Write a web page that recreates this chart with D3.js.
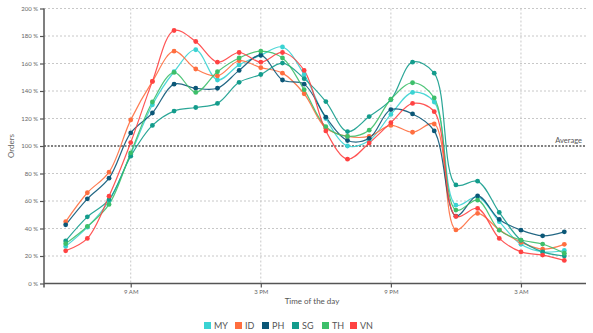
<!DOCTYPE html>
<html><head><meta charset="utf-8">
<script src="https://cdn.jsdelivr.net/npm/d3@7"></script>
<style>
body{margin:0;background:#fff;}
svg{display:block;font-family:Lato,"Noto Sans",sans-serif;}
</style></head>
<body><svg id="c" width="593" height="333"></svg>
<script>
// hours from 6 AM to 5 AM (next day)
const hours = d3.range(24).map(i => 6 + i);
const seriesNames = ["MY","ID","PH","SG","TH","VN"];
const seriesColors = ["#3ad3d3","#ff6e3f","#0b5777","#139c8c","#3dbf6a","#ff4242"];
const MY = [27,41,60,94,130,154,170,148,159,166,172,152,120,100,104,123,139,132,57,63,45,28.5,23,24];
const ID = [45,66,81,119,147,169,156,151,162,157,153,138,113,107,107,115,110,116,39,51,39,30,25,28.5];
const PH = [42.7,61.6,76.6,109.5,124,145,142,142,155,166,148,145,121,104,105.6,126.5,123.3,111,49,63.7,46.6,38.8,34.7,37.6];
const SG = [31,48.5,61,92.6,115,125.4,128,131,146.3,152,160.3,149,132.3,110.5,121.4,133.7,161,153,71.7,74.4,51.7,31.4,23,20];
const TH = [29,41.5,57.5,95,132,153.5,139,154,164,169,164,141,114,107,111.5,134,146,135,53.4,60.6,38.8,31.6,28.7,22];
const VN = [23.8,32.8,63.5,102.5,147,184,176,161,168,161,168,155,111,90.4,102.2,117,131,125,48.8,54.6,32.8,23,20.7,16.8];
const seriesValues = [MY, ID, PH, SG, TH, VN];
const yTicks = [0,20,40,60,80,100,120,140,160,180,200];
const xTicks = [9,15,21,27];
const xTickLabels = ["9 AM","3 PM","9 PM","3 AM"];
const averageValue = 100;

const svg = d3.select("#c");
const L = 44, R = 586, T = 8.5, B = 283.5;
const x = d3.scaleLinear().domain([5, 30]).range([L, R]);
const y = d3.scaleLinear().domain([0, 200]).range([B, T]);

// horizontal grid
svg.append("g").selectAll("line").data(yTicks.filter(v => v !== 0 && v !== averageValue)).join("line")
  .attr("x1", L).attr("x2", R).attr("y1", d => y(d)).attr("y2", d => y(d))
  .attr("stroke", "#c8c8c8").attr("stroke-width", 1).attr("stroke-dasharray", "2,2");
// vertical grid
svg.append("g").selectAll("line").data(xTicks).join("line")
  .attr("x1", d => x(d)).attr("x2", d => x(d)).attr("y1", T).attr("y2", B)
  .attr("stroke", "#c8c8c8").attr("stroke-width", 1).attr("stroke-dasharray", "2,2");

// y axis
const yAxis = d3.axisLeft(y).tickValues(yTicks).tickFormat(d => d + " %").tickSize(4).tickPadding(2);
const gy = svg.append("g").attr("transform", `translate(${L},0)`).call(yAxis);
gy.select(".domain").attr("stroke", "#555").attr("stroke-width", 1.5).attr("d", `M0,${T}V${B+4}`);
gy.selectAll(".tick line").attr("stroke", "#555").attr("stroke-width", 1.2);
gy.selectAll(".tick text").attr("fill", "#666").attr("font-size", 6).attr("font-family", "Lato,sans-serif");

// x axis
const xAxis = d3.axisBottom(x).tickValues(xTicks).tickFormat((d, i) => xTickLabels[i]).tickSize(4).tickPadding(2);
const gx = svg.append("g").attr("transform", `translate(0,${B})`).call(xAxis);
gx.select(".domain").attr("stroke", "#555").attr("stroke-width", 1.3).attr("d", `M${L},0H${R}`);
gx.selectAll(".tick line").attr("stroke", "#555").attr("stroke-width", 1.2);
gx.selectAll(".tick text").attr("fill", "#666").attr("font-size", 6).attr("font-family", "Lato,sans-serif");

// average line
svg.append("line").attr("x1", L).attr("x2", R).attr("y1", y(averageValue)).attr("y2", y(averageValue))
  .attr("stroke", "#555").attr("stroke-width", 1.4).attr("stroke-dasharray", "2,1.5");
svg.append("text").attr("x", 582).attr("y", y(averageValue) - 3.5).attr("text-anchor", "end")
  .attr("fill", "#555").attr("font-size", 7.5).text("Average");

// titles
svg.append("text").attr("transform", `translate(14,${(T+B)/2}) rotate(-90)`).attr("text-anchor", "middle")
  .attr("fill", "#666").attr("font-size", 8).text("Orders");
svg.append("text").attr("x", (L+R)/2 - 3).attr("y", 304).attr("text-anchor", "middle")
  .attr("fill", "#555").attr("font-size", 8).text("Time of the day");

// lines
const line = d3.line().x((d, i) => x(hours[i])).y(d => y(d)).curve(d3.curveCatmullRom.alpha(0.5));
seriesValues.forEach((vals, s) => {
  svg.append("path").datum(vals).attr("d", line).attr("fill", "none")
    .attr("stroke", seriesColors[s]).attr("stroke-width", 1.2).attr("opacity", 0.9);
});
seriesValues.forEach((vals, s) => {
  svg.append("g").selectAll("circle").data(vals).join("circle")
    .attr("cx", (d, i) => x(hours[i])).attr("cy", d => y(d)).attr("r", 2.4)
    .attr("fill", seriesColors[s]);
});

// legend
const legendX = [204, 235, 262, 292, 322, 350];
const lg = svg.append("g");
seriesNames.forEach((n, i) => {
  lg.append("rect").attr("x", legendX[i]).attr("y", 322).attr("width", 7).attr("height", 7).attr("fill", seriesColors[i]);
  lg.append("text").attr("x", legendX[i] + 10).attr("y", 329).attr("fill", "#555").attr("font-size", 9).text(n);
});
</script></body></html>
